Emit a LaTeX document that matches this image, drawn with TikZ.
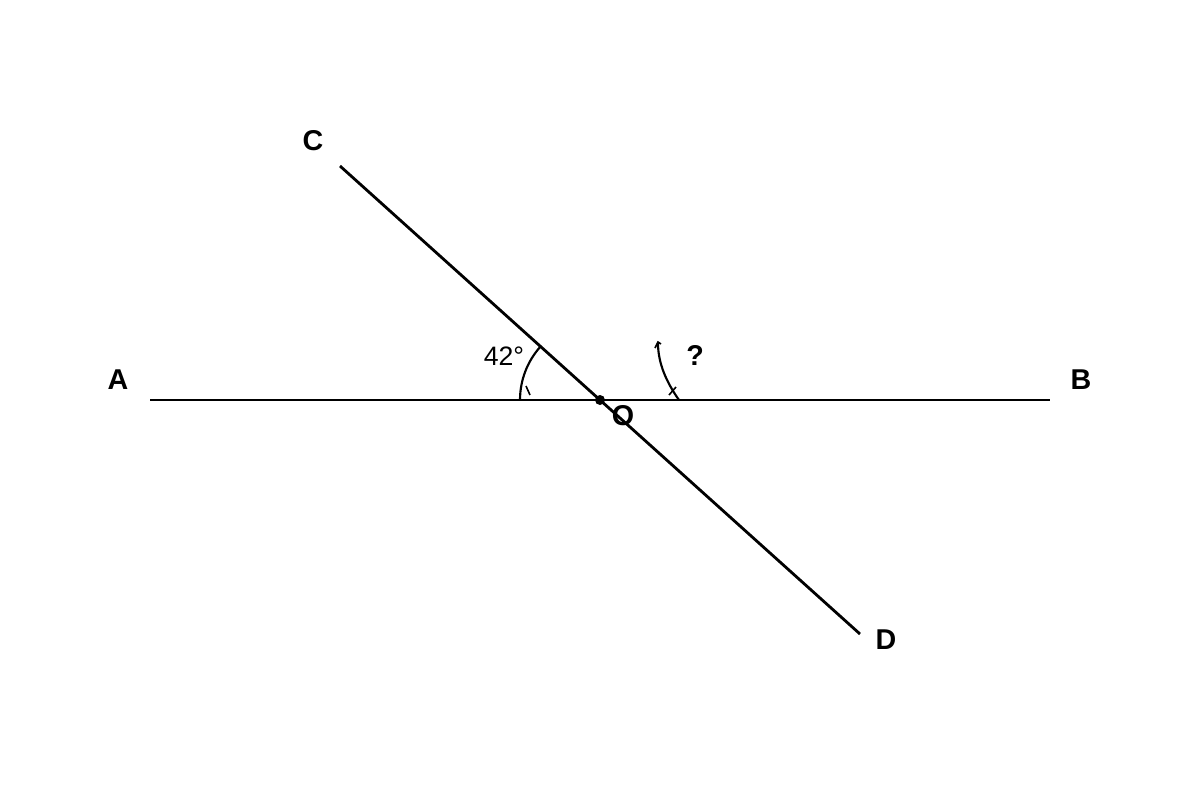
\documentclass[tikz,border=0pt]{standalone}
\usepackage{fontspec}
\setmainfont{Liberation Sans}
\begin{document}
\begin{tikzpicture}[x=0.75pt,y=-0.75pt,
  ln/.style={line width=2.1pt},
  arcln/.style={line width=1.6pt},
  tick/.style={line width=1.2pt},
  lbl/.style={font=\bfseries\fontsize{21.5}{25}\selectfont,inner sep=0pt},
  ang/.style={font=\fontsize{20}{23}\selectfont,inner sep=0pt}]
\useasboundingbox (0,0) rectangle (1200,800);
\coordinate (A) at (150,400);
\coordinate (B) at (1050,400);
\coordinate (C) at (340,166);
\coordinate (D) at (860,634);
\coordinate (O) at (600,400);
\coordinate (q1) at (679,400);
\coordinate (q2) at (658,343);
\draw[ln] (A) -- (B);
\draw[ln] (C) -- (D);
\fill (O) circle (5);
% angle arcs
\draw[arcln] (O) ++(180:80) arc[start angle=180, end angle=222, radius=80];
\draw[arcln] (q1) .. controls (667,383) and (658,364) .. (q2);
% small tick marks
\draw[tick] (526,386) -- (530,395);
\draw[tick] (669,395) -- (676,387);
\draw[tick] (655,348) -- (658,342) -- (661,344);
% labels
\node[lbl] (la) at (118,380) {A};
\node[lbl] (lb) at (1081,380) {B};
\node[lbl] (lc) at (313,141) {C};
\node[lbl] (ld) at (886,640) {D};
\node[lbl] (lo) at (623,416) {O};
\node[ang] (l42) at (504,356) {42°};
\node[lbl] (lq) at (695,355) {?};
\end{tikzpicture}
\end{document}
